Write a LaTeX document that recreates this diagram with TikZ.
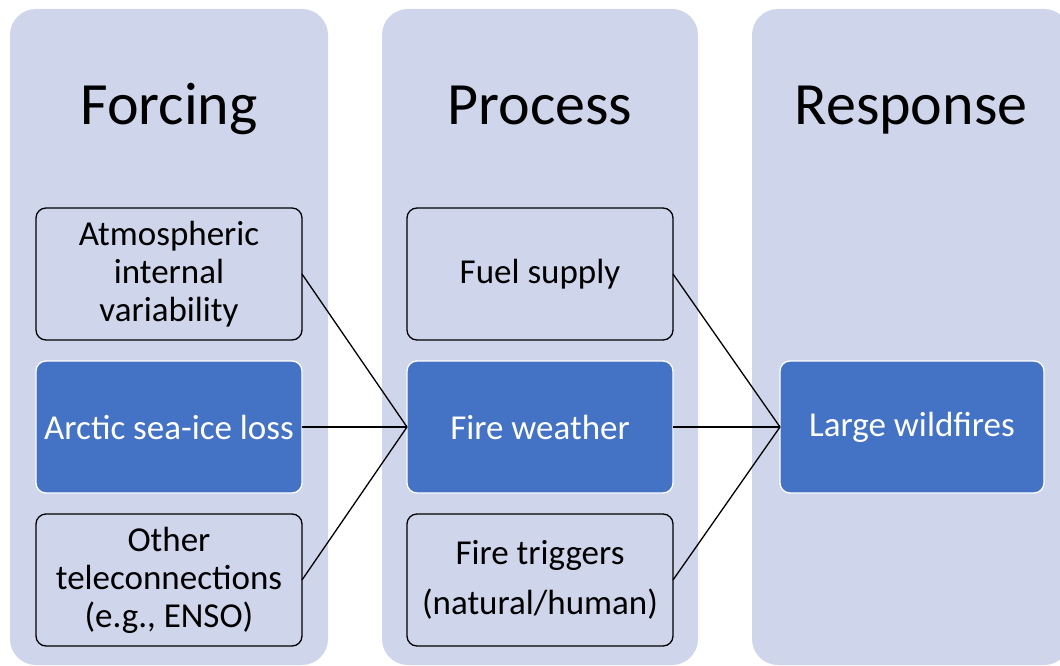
\documentclass[tikz,border=0pt]{standalone}
\usepackage{fontspec}
\setmainfont{Carlito}
\usetikzlibrary{positioning}
\usepackage{color}
\definecolor{panelblue}{HTML}{CFD5EA}
\definecolor{keyblue}{HTML}{4472C4}

\begin{document}
\begin{tikzpicture}[x=1pt, y=-1pt,
                  panel/.style={fill=panelblue, rounded corners=26pt},
                  heading/.style={anchor=base, font=\fontsize{60}{72}\selectfont},
                  plainbox/.style={draw=black, line width=1.3pt, rounded corners=10pt,
                              minimum width=266pt, minimum height=132pt, inner sep=0pt,
                              outer sep=0pt, align=center, font=\fontsize{35}{38}\selectfont},
                  keybox/.style={plainbox, draw=white, fill=keyblue, text=white},
                  link/.style={draw=black, line width=1.3pt}]
            \useasboundingbox (0,0) rectangle (1060,666);
            \clip (0,0) rectangle (1060,666);
            % background columns
            \path[panel] (10,9) rectangle (328,665);
            \path[panel] (382,9) rectangle (698,665);
            \path[panel] (752,9) rectangle (1070,665);
            \node[heading] (forcing) at (169,125) {Forcing};
            \node[heading] (process) at (540,125) {Process};
            \node[heading] (response) at (911,125) {Response};

            \node[plainbox] (atmos) at (169,274) {Atmospheric\\internal\\variability};
            \node[keybox, below=21pt of atmos] (seaice) {Arctic sea-ice loss};
            \node[plainbox, below=21pt of seaice] (telecon) {Other\\teleconnections\\(e.g., ENSO)};

            \node[plainbox, right=105pt of atmos] (fuel) {Fuel supply};
            \node[keybox, below=21pt of fuel] (weather) {Fire weather};
            \node[plainbox, below=21pt of weather] (triggers) {Fire triggers\\[12pt](natural/human)};

            \node[keybox, right=107pt of weather, minimum width=264pt] (wildfires) {Large wildfires};

            \draw[link] (atmos.east) -- (weather.west);
            \draw[link] (seaice.east) -- (weather.west);
            \draw[link] (telecon.east) -- (weather.west);
            \draw[link] (fuel.east) -- (wildfires.west);
            \draw[link] (weather.east) -- (wildfires.west);
            \draw[link] (triggers.east) -- (wildfires.west);
      \end{tikzpicture}
\end{document}
